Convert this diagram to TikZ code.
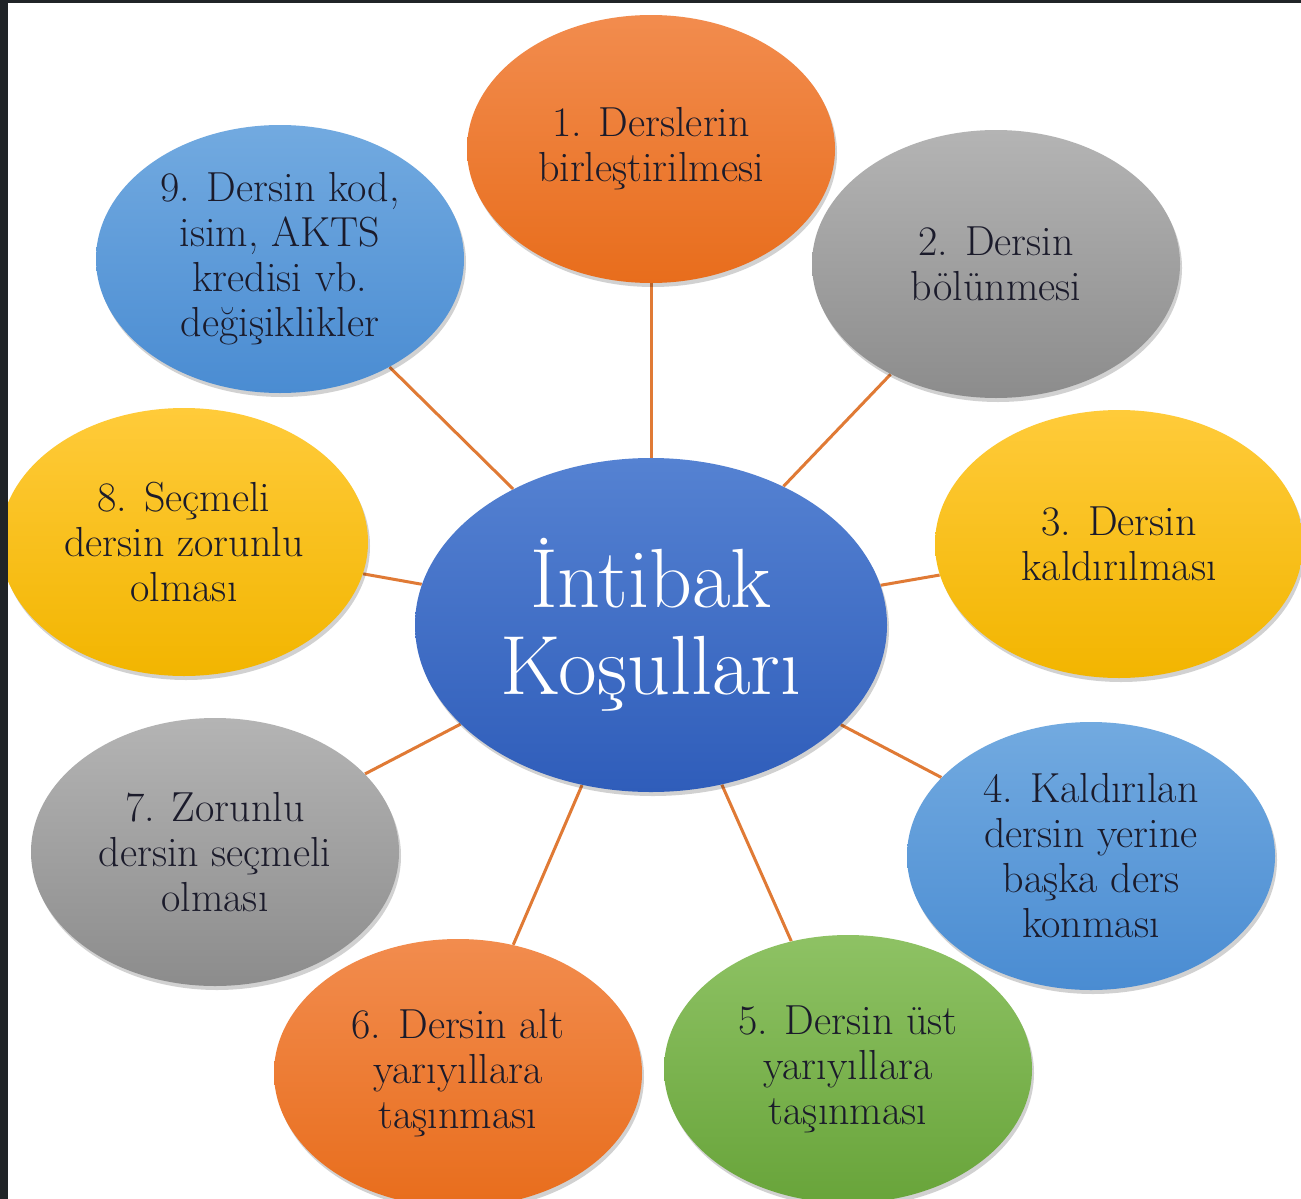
\documentclass[tikz,border=0pt]{standalone}
\usepackage{fontspec}
\usetikzlibrary{shapes.geometric,shadows,backgrounds}
\definecolor{txt}{HTML}{1B1B2B}
\definecolor{conn}{HTML}{E07A35}
\definecolor{orT}{HTML}{F28C4E}\definecolor{orB}{HTML}{E86D1C}
\definecolor{grT}{HTML}{B4B4B4}\definecolor{grB}{HTML}{8C8C8C}
\definecolor{yeT}{HTML}{FFCB3A}\definecolor{yeB}{HTML}{F2B500}
\definecolor{blT}{HTML}{72AAE0}\definecolor{blB}{HTML}{4A8CD2}
\definecolor{gnT}{HTML}{8EC264}\definecolor{gnB}{HTML}{68A43A}
\definecolor{ceT}{HTML}{5582D2}\definecolor{ceB}{HTML}{2F5DBA}
\definecolor{frame}{HTML}{202427}
\tikzset{
  bub/.style={ellipse, inner sep=0pt, align=center, minimum width=184pt, minimum height=134pt,
    font=\fontsize{21}{22.5}\selectfont, text=txt,
    drop shadow={shadow xshift=1pt, shadow yshift=-2pt, opacity=0.18, fill=black}},
  orb/.style={bub, top color=orT, bottom color=orB},
  grb/.style={bub, top color=grT, bottom color=grB},
  yeb/.style={bub, top color=yeT, bottom color=yeB},
  blb/.style={bub, top color=blT, bottom color=blB},
  gnb/.style={bub, top color=gnT, bottom color=gnB},
  centre/.style={ellipse, inner sep=0pt, align=center, minimum width=236pt, minimum height=167pt,
    top color=ceT, bottom color=ceB, text=white, font=\fontsize{42}{43.5}\selectfont,
    drop shadow={shadow xshift=1pt, shadow yshift=-2pt, opacity=0.18, fill=black}},
  link/.style={draw=conn, line width=1.5pt}
}
\begin{document}
\begin{tikzpicture}[x=0.5pt,y=-0.5pt]
\useasboundingbox (0,0) rectangle (1301,1199);
\clip (0,0) rectangle (1301,1199);
\node[centre] (c) at (651,625) {İntibak\\Koşulları};
\node[orb] (n1) at (651,149) {1. Derslerin\\birleştirilmesi};
\node[grb] (n2) at (996,264) {2. Dersin\\bölünmesi};
\node[yeb] (n3) at (1119,544) {3. Dersin\\kaldırılması};
\node[blb] (n4) at (1091,856) {4. Kaldırılan\\dersin yerine\\başka ders\\konması};
\node[gnb] (n5) at (848,1069) {5. Dersin üst\\yarıyıllara\\taşınması};
\node[orb] (n6) at (458,1073) {6. Dersin alt\\yarıyıllara\\taşınması};
\node[grb] (n7) at (215,852) {7. Zorunlu\\dersin seçmeli\\olması};
\node[yeb] (n8) at (184,542) {8. Seçmeli\\dersin zorunlu\\olması};
\node[blb] (n9) at (280,259) {9. Dersin kod,\\isim, AKTS\\kredisi vb.\\değişiklikler};
\begin{scope}[on background layer]
\fill[white] (0,0) rectangle (1301,1199);
\foreach \n in {n1,n2,n3,n4,n5,n6,n7,n8,n9}
  \draw[link] (c) -- (\n);
\end{scope}
\fill[frame] (0,0) rectangle (8,1199);
\fill[frame] (0,0) rectangle (1301,3);
\end{tikzpicture}
\end{document}
